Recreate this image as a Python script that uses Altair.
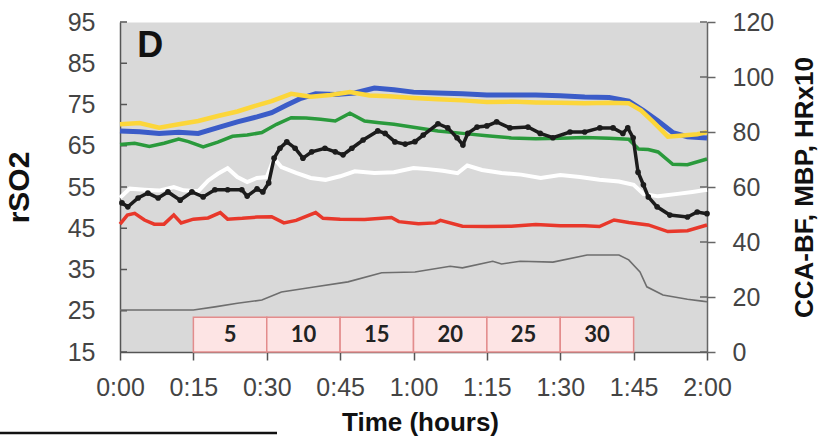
import altair as alt
import pandas as pd

# ---- time (minutes) and values for each trace ----
# rSO2 traces (left axis, %)
yellow_t = [0, 4, 8, 12, 16, 20, 24, 28, 31, 35, 39, 43, 47, 51, 55, 60, 65, 70, 75, 80,
            85, 90, 95, 100, 104, 106.5, 109, 112, 115, 118, 120]
yellow_v = [70.2, 70.5, 69.4, 70.2, 71.0, 72.2, 73.3, 74.8, 75.8, 77.6, 76.9, 77.3, 78.0, 77.2,
            77.0, 76.6, 76.3, 76.0, 75.6, 75.7, 75.5, 75.4, 75.3, 75.4, 75.3, 73.6, 70.8, 67.2,
            67.5, 67.8, 68.3]

blue_t = [0, 4, 8, 12, 16, 20, 24, 28, 31, 34, 37, 40, 44, 48, 52, 56, 60, 65, 70, 75, 80,
          85, 90, 95, 100, 104, 107, 110, 113, 116, 120]
blue_v = [68.6, 68.4, 68.0, 68.3, 68.0, 69.4, 70.8, 72.0, 73.0, 74.8, 76.5, 77.6, 77.4, 77.8,
          79.0, 78.6, 78.0, 77.8, 77.6, 77.3, 77.3, 77.3, 77.1, 76.8, 76.7, 75.8, 73.5, 71.0,
          68.2, 67.2, 66.9]

green_t = [0, 3, 6, 9, 12, 14, 17, 20, 23, 26, 29, 32, 35, 38, 41, 44, 47, 50, 53, 56, 60,
           65, 70, 75, 80, 85, 90, 95, 100, 104, 106, 108, 110, 113, 116, 120]
green_v = [65.3, 65.6, 64.8, 65.6, 66.6, 66.0, 64.7, 65.9, 67.3, 67.6, 68.2, 70.2, 71.8, 71.7,
           71.4, 71.0, 72.9, 71.0, 70.6, 70.2, 69.5, 68.6, 68.0, 67.4, 66.9, 66.7, 66.8, 67.0,
           66.8, 66.6, 64.2, 64.1, 63.5, 60.5, 60.4, 61.8]

red_t = [0, 1.5, 3, 5, 7, 9, 11, 12.5, 15, 18, 20.5, 22, 25, 28, 31, 33.5, 36, 40, 41.5, 45,
         50, 55.5, 57, 61, 64.5, 65.5, 70, 75, 80, 85, 90, 95, 98, 101, 104, 108, 112, 116, 120]
red_v = [46.0, 48.2, 48.6, 47.0, 46.0, 46.0, 48.2, 46.3, 47.2, 47.5, 48.8, 47.2, 47.4, 47.7,
         47.8, 46.3, 46.9, 48.8, 47.4, 47.2, 47.1, 47.6, 46.6, 46.1, 46.3, 46.9, 45.5, 45.4,
         45.5, 45.9, 45.6, 45.6, 45.4, 47.0, 46.4, 45.8, 44.2, 44.4, 45.8]

# right-axis traces
mbp_t = [0.4, 1.6, 3.7, 5.7, 7.8, 9.8, 12.3, 14.7, 17, 19.4, 22, 24.9, 26, 28, 29.2, 30.4,
         31.5, 32.7, 34.1, 35.8, 37.4, 39.2, 41.9, 44, 45.6, 47.4, 49.7, 52.7, 54.2, 56.2,
         58.3, 60.3, 62, 65, 67, 68.9, 70.1, 71.1, 73, 75, 77, 79.7, 83.4, 85.9, 88.5, 92,
         95, 98.1, 100.8, 102.8, 103.8, 104.9, 105.9, 107, 108, 109.8, 112.4, 116, 118, 120]
mbp_v = [54.2, 52.8, 56.0, 57.8, 56.0, 58.2, 55.2, 58.2, 56.4, 59.0, 59.0, 59.0, 56.7, 59.3,
         58.2, 61.5, 70.5, 74.1, 76.4, 74.1, 70.5, 72.8, 74.1, 72.8, 71.7, 74.1, 77.1, 80.4,
         79.5, 76.4, 75.6, 76.5, 78.9, 83.0, 81.5, 77.9, 75.3, 79.5, 81.8, 82.2, 83.7, 81.5,
         81.8, 79.5, 77.9, 80.0, 80.0, 81.5, 81.5, 79.5, 81.5, 77.9, 65.4, 60.8, 56.4, 52.8,
         49.8, 49.1, 50.9, 50.3]

hr_t = [0, 2, 5, 8, 11, 13, 16, 18, 20, 22, 24, 26, 28, 30, 31.5, 33, 36, 39, 42, 45, 48,
        52, 56, 60, 63, 66, 69, 71, 74, 78, 82, 86, 90, 94, 98, 102, 105, 107, 110, 114,
        117, 120]
hr_v = [56.1, 59.4, 59.0, 58.7, 60.0, 58.8, 58.5, 62.3, 64.8, 66.8, 63.6, 61.8, 63.3, 63.6,
        70.5, 67.2, 65.1, 63.3, 62.6, 63.9, 65.7, 65.1, 65.4, 66.9, 66.5, 65.9, 65.0, 67.8,
        66.2, 65.1, 64.5, 63.3, 64.4, 63.6, 62.6, 62.0, 60.8, 57.5, 56.6, 57.5, 58.2, 59.0]

bf_t = [0, 15, 19.4, 24, 29, 33, 40, 46.6, 53.5, 60.3, 67.5, 70, 76.2, 78, 81.8, 88.5, 95.5,
        102, 104, 106.3, 107.7, 111, 116, 119, 120]
bf_v = [15.3, 15.3, 16.4, 17.7, 18.9, 21.8, 23.7, 25.5, 28.8, 29.1, 31.2, 30.6, 33.0, 32.0,
        33.0, 32.7, 35.3, 35.3, 33.5, 29.1, 23.7, 20.7, 19.2, 18.5, 18.3]

# blood-loss stages (% volume) shown as boxes along the time axis
stage_start = [15, 30, 45, 60, 75, 90]
stage_label = ["5", "10", "15", "20", "25", "30"]
stage_low, stage_high = 15, 23.4

left_ticks = [15, 25, 35, 45, 55, 65, 75, 85, 95]
right_ticks = [0, 20, 40, 60, 80, 100, 120]
time_ticks = [0, 15, 30, 45, 60, 75, 90, 105, 120]

W, H = 587, 330
FONT = "Liberation Sans"


def frame(t, v):
    return pd.DataFrame({"t": t, "v": v})


time_label = ("floor(datum.value / 60) + ':' + (datum.value % 60 < 10 ? '0' : '') "
              "+ (datum.value % 60)")

time_scale = alt.Scale(domain=[0, 120], nice=False, zero=False)
time_axis = alt.Axis(
    values=time_ticks, labelExpr=time_label, title="Time (hours)",
    labelFlush=False, labelOverlap=False,
    tickSize=8, labelPadding=15, titleY=78, titleX=300, titleBaseline="alphabetic",
    grid=False, domainColor="#555", tickColor="#555", domainWidth=1.5, tickWidth=1.5,
)


def x_time(field):
    return alt.X(f"{field}:Q", scale=time_scale, axis=time_axis)


left_axis = alt.Axis(
    values=left_ticks, title="rSO2", ticks=False, labelPadding=25, grid=False,
    labelFlush=False, labelOverlap=False,
    domainColor="#555", domainWidth=1.5, titlePadding=33, titleFontSize=30,
)
left_scale = alt.Scale(domain=[15, 95], nice=False, zero=False)


def y_left(field):
    return alt.Y(f"{field}:Q", scale=left_scale, axis=left_axis)


right_axis = alt.Axis(
    values=right_ticks, title="CCA-BF, MBP, HRx10", orient="right", tickSize=8,
    labelFlush=False, labelOverlap=False,
    labelPadding=17, grid=False, domainColor="#666", tickColor="#666", domainWidth=1.5,
    tickWidth=1.5, titleAngle=270, titleBaseline="top", titlePadding=18,
)
right_scale = alt.Scale(domain=[0, 120], nice=False, zero=False)


def y_right(field):
    return alt.Y(f"{field}:Q", scale=right_scale, axis=right_axis)


def trace(t, v, color, width, y):
    return alt.Chart(frame(t, v)).mark_line(color=color, strokeWidth=width).encode(
        x=x_time("t"), y=y("v"))


# ---- left-axis group ----
stages = pd.DataFrame({
    "t": stage_start,
    "t_end": [s + 15 for s in stage_start],
    "lo": [stage_low] * len(stage_start),
    "hi": [stage_high] * len(stage_start),
    "mid": [s + 7.5 for s in stage_start],
    "ymid": [(stage_low + stage_high) / 2] * len(stage_start),
    "label": stage_label,
})
stage_boxes = alt.Chart(stages).mark_rect(
    fill="#fde4e4", stroke="#e38c8c", strokeWidth=1.5
).encode(x=x_time("t"), x2="t_end:Q", y=y_left("lo"), y2="hi:Q")

stage_text = alt.Chart(stages).mark_text(
    font="Lato", fontWeight="bold", fontSize=22, color="#222", baseline="middle"
).encode(x=x_time("mid"), y=y_left("ymid"), text="label:N")

panel_letter = alt.Chart(pd.DataFrame({"t": [6.2], "v": [89.3], "s": ["D"]})).mark_text(
    font=FONT, fontWeight="bold", fontSize=36, color="#111", baseline="middle"
).encode(x=x_time("t"), y=y_left("v"), text="s:N")

left_tick_marks = alt.Chart(pd.DataFrame({"v": left_ticks})).mark_rule(
    color="#555", strokeWidth=1.5
).encode(y=y_left("v"), x=alt.value(0), x2=alt.value(7))

# short rule under the figure, bottom-left
page_rule = alt.Chart(pd.DataFrame({"v": [15]})).mark_rule(
    color="#111", strokeWidth=2.5
).encode(x=alt.value(-120), x2=alt.value(157), y=alt.value(411))

left_group = alt.layer(
    stage_boxes, stage_text, left_tick_marks,
    trace(green_t, green_v, "#2a9a3c", 3.5, y_left),
    trace(blue_t, blue_v, "#3b5cc8", 5, y_left),
    trace(yellow_t, yellow_v, "#fcd63a", 4.5, y_left),
    trace(red_t, red_v, "#e8382b", 3.5, y_left),
    panel_letter, page_rule,
)

# ---- right-axis group ----
right_tick_marks = alt.Chart(pd.DataFrame({"v": right_ticks})).mark_rule(
    color="#666", strokeWidth=1.5
).encode(y=y_right("v"), x=alt.value(W - 7), x2=alt.value(W))

mbp_line = alt.Chart(frame(mbp_t, mbp_v)).mark_line(
    color="#1c1c1c", strokeWidth=3.5,
    point=alt.OverlayMarkDef(color="#1c1c1c", filled=True, size=32),
).encode(x=x_time("t"), y=y_right("v"))

right_group = alt.layer(
    right_tick_marks,
    trace(bf_t, bf_v, "#6e6e6e", 1.6, y_right),
    trace(hr_t, hr_v, "#ffffff", 4, y_right),
    mbp_line,
)

chart = alt.layer(left_group, right_group).resolve_scale(y="independent").properties(
    width=W, height=H,
    autosize=alt.AutoSizeParams(type="none"),
    padding={"left": 120, "top": 22, "right": 112, "bottom": 84},
    background="white",
).configure_view(
    fill="#d9d9d9", stroke="transparent"
).configure_axis(
    labelFont=FONT, labelFontSize=25, labelColor="#444",
    titleFont=FONT, titleFontSize=26, titleFontWeight="bold", titleColor="#111",
)

chart.save("out.html", embed_options={"renderer": "svg", "actions": False})
